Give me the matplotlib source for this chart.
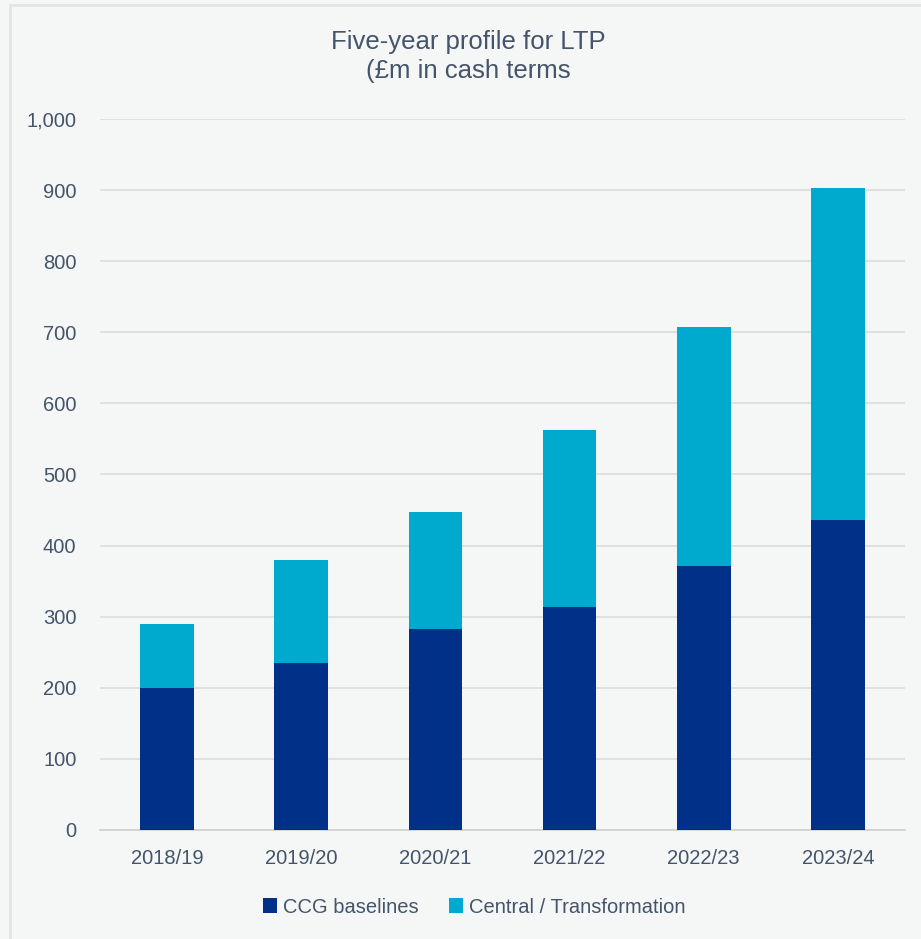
import matplotlib.pyplot as plt  # Make the plot.
from matplotlib.lines import Line2D

years = ["2018/19", "2019/20", "2020/21", "2021/22", "2022/23", "2023/24"]  # Categories.
ccg = [200, 235, 283, 314, 371, 436]  # CCG baselines (£m).
central = [90, 145, 164, 249, 337, 467]  # Central / Transformation (£m).
yticks = [0, 100, 200, 300, 400, 500, 600, 700, 800, 900, 1000]

BG = "#f5f7f7"
TEXT = "#44546a"
plt.rcParams["font.family"] = ["Liberation Sans", "DejaVu Sans"]

fig = plt.figure(figsize=(9.21, 9.39), dpi=100, facecolor=BG)
ax = fig.add_axes([0.1086, 0.1161, 0.874, 0.7572], facecolor=BG)

x = range(len(years))
ax.bar(x, ccg, width=0.4, color="#003087", label="CCG baselines", zorder=3)
ax.bar(x, central, width=0.4, bottom=ccg, color="#00a9ce", label="Central / Transformation", zorder=3)

ax.set_xlim(-0.5, len(years) - 0.5)
ax.set_ylim(0, 1000)
ax.set_yticks(yticks)
ax.set_yticklabels([f"{v:,}" for v in yticks])
ax.set_xticks(list(x))
ax.set_xticklabels(years)
ax.tick_params(length=0, labelsize=14.5, labelcolor=TEXT)
ax.tick_params(axis="y", pad=17)
ax.tick_params(axis="x", pad=14)
ax.yaxis.grid(True, color="#dcdcdc", lw=1.2, zorder=0)
for s in ["top", "right", "left"]:
    ax.spines[s].set_visible(False)
ax.spines["bottom"].set_color("#d0d0d0")
ax.spines["bottom"].set_linewidth(1.2)

fig.text(0.508, 0.94, "Five-year profile for LTP\n(£m in cash terms", ha="center", va="center",
         fontsize=18.5, color=TEXT, linespacing=1.25)

fig.legend(loc="center", bbox_to_anchor=(0.515, 0.034), ncol=2, frameon=False, fontsize=14.5,
           handlelength=0.7, handleheight=0.7, handletextpad=0.3, columnspacing=1.5,
           labelcolor=TEXT)

# Light border lines at the left and top edges.
fig.add_artist(Line2D([0.011, 0.011], [0, 0.995], transform=fig.transFigure, color="#e3e5e5", lw=2))
fig.add_artist(Line2D([0.011, 1], [0.995, 0.995], transform=fig.transFigure, color="#e3e5e5", lw=2))

fig.savefig("out.png", dpi=100, facecolor=BG)
